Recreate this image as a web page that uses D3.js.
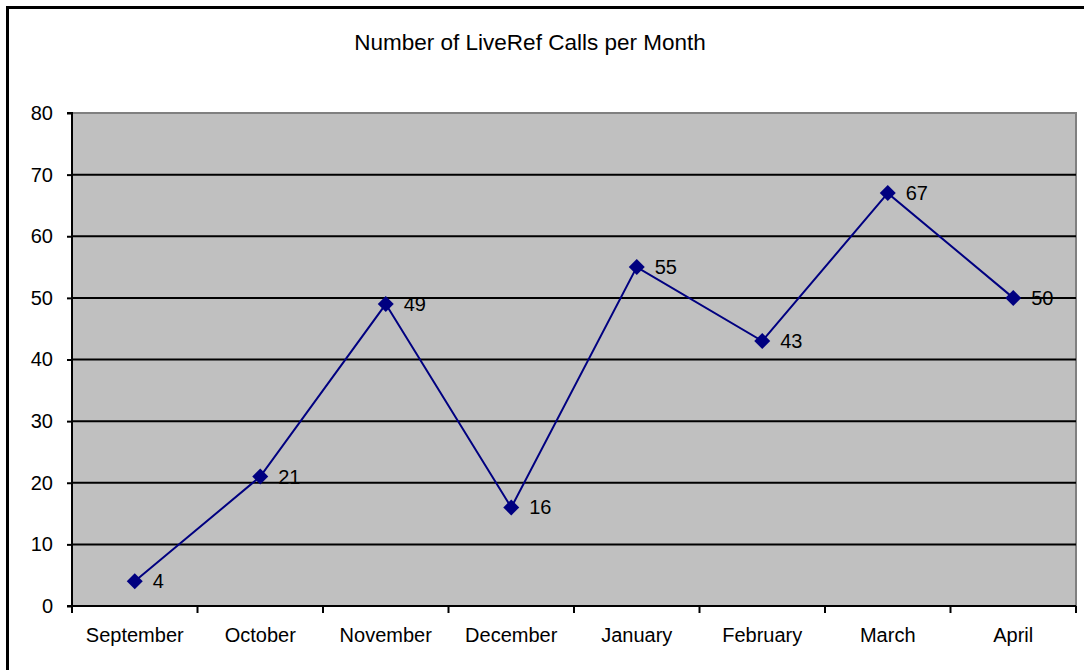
<!DOCTYPE html>
<html>
<head>
<meta charset="utf-8">
<script src="https://cdn.jsdelivr.net/npm/d3@7"></script>
<style>
  body { margin: 0; background: #fff; overflow: hidden; }
  svg { display: block; font-family: "Liberation Sans", Arial, sans-serif; }
</style>
</head>
<body>
<svg id="chart" width="1084" height="670"></svg>
<script>
// chart data
const months = ["September", "October", "November", "December", "January", "February", "March", "April"];
const calls = [4, 21, 49, 16, 55, 43, 67, 50];
const yTicks = [0, 10, 20, 30, 40, 50, 60, 70, 80];
const title = "Number of LiveRef Calls per Month";

const svg = d3.select("#chart");
const margin = {top: 113, right: 8, bottom: 64, left: 72};
const width = 1084 - margin.left - margin.right,
      height = 670 - margin.top - margin.bottom;

// outer chart border (only top/left visible in the picture)
svg.append("rect")
    .attr("x", 7.5).attr("y", 7.5)
    .attr("width", 1200).attr("height", 800)
    .attr("fill", "#fff")
    .attr("stroke", "#000")
    .attr("stroke-width", 3);

svg.append("text")
    .attr("x", 530).attr("y", 50)
    .attr("text-anchor", "middle")
    .attr("font-size", 22.5)
    .text(title);

const g = svg.append("g").attr("transform", `translate(${margin.left},${margin.top})`);

const x = d3.scaleBand().domain(months).range([0, width]);
const y = d3.scaleLinear().domain([0, 80]).range([height, 0]);

// plot area
g.append("rect")
    .attr("width", width).attr("height", height)
    .attr("fill", "#c0c0c0")
    .attr("stroke", "#808080")
    .attr("stroke-width", 2);

// gridlines
g.selectAll(".grid").data(yTicks.filter(d => d > 0 && d < 80)).enter()
    .append("line")
    .attr("x1", 0).attr("x2", width)
    .attr("y1", d => y(d)).attr("y2", d => y(d))
    .attr("stroke", "#000").attr("stroke-width", 2);

// y axis
const yAxis = d3.axisLeft(y).tickValues(yTicks).tickSize(5).tickPadding(14);
g.append("g").call(yAxis)
    .call(s => s.select(".domain").attr("stroke-width", 2).attr("d", `M-5,0H0V${height}H-5`))
    .call(s => s.selectAll("line").attr("stroke-width", 2))
    .call(s => s.selectAll("text").attr("font-size", 20).attr("fill", "#000")
        .attr("font-family", "Liberation Sans, Arial, sans-serif"));

// x axis: ticks between categories
const xAxisG = g.append("g").attr("transform", `translate(0,${height})`);
xAxisG.append("line").attr("x1", 0).attr("x2", width).attr("stroke", "#000").attr("stroke-width", 2);
const bounds = months.map(m => x(m)).concat([width]);
xAxisG.selectAll(".tk").data(bounds).enter().append("line")
    .attr("x1", d => d).attr("x2", d => d)
    .attr("y1", 0).attr("y2", 7)
    .attr("stroke", "#000").attr("stroke-width", 2);
xAxisG.selectAll(".lbl").data(months).enter().append("text")
    .attr("x", d => x(d) + x.bandwidth() / 2)
    .attr("y", 36)
    .attr("text-anchor", "middle")
    .attr("font-size", 20)
    .text(d => d);

const cx = (d, i) => x(months[i]) + x.bandwidth() / 2;

// line
g.append("path")
    .datum(calls)
    .attr("fill", "none")
    .attr("stroke", "#000080")
    .attr("stroke-width", 2)
    .attr("d", d3.line().x(cx).y(d => y(d)));

// diamond markers
g.selectAll(".pt").data(calls).enter().append("path")
    .attr("transform", (d, i) => `translate(${cx(d, i)},${y(d)})`)
    .attr("d", "M0,-8L8,0L0,8L-8,0Z")
    .attr("fill", "#000080");

// value labels
g.selectAll(".val").data(calls).enter().append("text")
    .attr("x", (d, i) => cx(d, i) + 18)
    .attr("y", d => y(d) + 7)
    .attr("font-size", 20)
    .text(d => d);
</script>
</body>
</html>
